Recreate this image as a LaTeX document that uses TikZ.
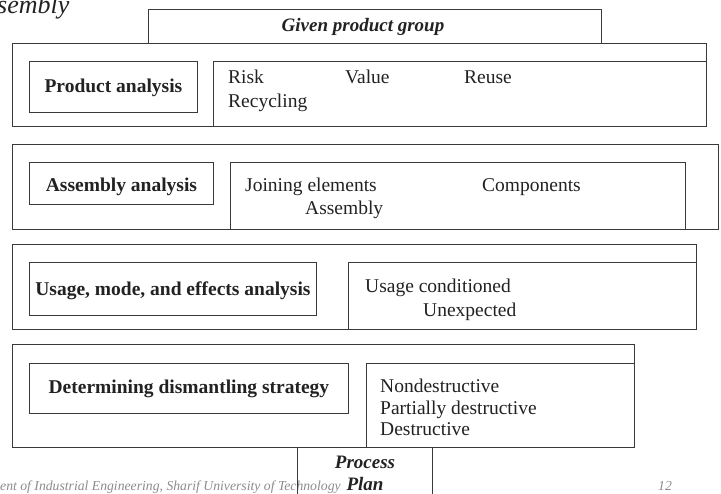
\documentclass[tikz,border=0pt]{standalone}
\usepackage{fontspec}
\setmainfont{Liberation Serif}
\definecolor{ln}{HTML}{3A3A3A}
\definecolor{tx}{HTML}{222222}
\definecolor{ft}{HTML}{8C8C8C}
\begin{document}
\begin{tikzpicture}[x=1pt,y=-1pt,
  box/.style={draw=ln,line width=0.9pt,fill=white,inner sep=0pt,anchor=north west},
  lbl/.style={text=tx,inner sep=0pt,font=\fontsize{19.5}{22}\selectfont\bfseries},
  itm/.style={text=tx,inner sep=0pt,anchor=base west,font=\fontsize{19.5}{22}\selectfont},
  pln/.style={text=tx,inner sep=0pt,font=\fontsize{19}{22}\selectfont\bfseries\itshape},
  foot/.style={text=ft,inner sep=0pt,anchor=base west,font=\fontsize{13.7}{16}\selectfont\itshape}]
\useasboundingbox (0,0) rectangle (721,494);
% title fragment
\node[text=tx,inner sep=0pt,anchor=base west,font=\fontsize{26}{28}\selectfont\itshape] (ttl) at (-3,14) {sembly};
% given product group
\node[box,minimum width=453pt,minimum height=34pt] (gpg) at (148,9) {};
\node[pln] (gpgt) at (363,27) {Given product group};
% row 1
\node[box,minimum width=694pt,minimum height=83pt] (o1) at (12,43) {};
\node[box,minimum width=168pt,minimum height=51pt] (pa) at (29,61) {};
\node[lbl] (pat) at ([yshift=-1pt]pa.center) {Product analysis};
\node[box,minimum width=493pt,minimum height=65pt] (r1) at (213,61) {};
\node[itm] (risk) at (228,84) {Risk};
\node[itm] (value) at (345,84) {Value};
\node[itm] (reuse) at (464,84) {Reuse};
\node[itm] (recyc) at (228,108) {Recycling};
% row 2
\node[box,minimum width=706pt,minimum height=85pt] (o2) at (12,144) {};
\node[box,minimum width=184pt,minimum height=42pt] (aa) at (29,162) {};
\node[lbl] (aat) at ([yshift=-3pt]aa.center) {Assembly analysis};
\node[box,minimum width=455pt,minimum height=67pt] (r2) at (230,162) {};
\node[itm] (join) at (245,192) {Joining elements};
\node[itm] (comp) at (482,192) {Components};
\node[itm] (assy) at (305,215) {Assembly};
% row 3
\node[box,minimum width=684pt,minimum height=85pt] (o3) at (12,244) {};
\node[box,minimum width=287pt,minimum height=53pt] (ua) at (29,262) {};
\node[lbl] (uat) at ([yshift=-2pt]ua.center) {Usage, mode, and effects analysis};
\node[box,minimum width=348pt,minimum height=67pt] (r3) at (348,262) {};
\node[itm] (usec) at (365,293) {Usage conditioned};
\node[itm] (unexp) at (423,317) {Unexpected};
% row 4
\node[box,minimum width=622pt,minimum height=103pt] (o4) at (12,344) {};
\node[box,minimum width=319pt,minimum height=50pt] (ds) at (29,363) {};
\node[lbl] (dst) at (ds.center) {Determining dismantling strategy};
\node[box,minimum width=268pt,minimum height=84pt] (r4) at (366,363) {};
\node[itm] (nond) at (380,393) {Nondestructive};
\node[itm] (part) at (380,415) {Partially destructive};
\node[itm] (dest) at (380,436) {Destructive};
% process plan
\node[foot] (dept) at (0,490) {ent of Industrial Engineering, Sharif University of Technology};
\node[foot] (page) at (658,490) {12};
\node[inner sep=0pt] (pp) at (365,470) {};
\draw[ln,line width=0.9pt] (o4.south west -| 297,0) -- (297,500);
\draw[ln,line width=0.9pt] (o4.south west -| 432,0) -- (432,500);
\node[pln] (proc) at (365,462) {Process};
\node[pln] (plan) at (365,484) {Plan};
\end{tikzpicture}
\end{document}
